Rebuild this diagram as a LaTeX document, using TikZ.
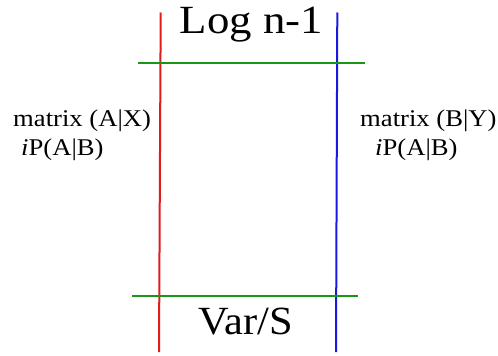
\documentclass[tikz,border=0pt]{standalone}
\usepackage{fontspec}
\setmainfont{Liberation Serif}
\definecolor{lred}{RGB}{222,28,28}
\definecolor{lblue}{RGB}{24,24,222}
\definecolor{lgreen}{RGB}{24,150,24}
\tikzset{
  bigtext/.style={inner sep=0pt, anchor=base, font=\fontsize{40}{44}\selectfont},
  smalltext/.style={inner sep=0pt, anchor=base west, font=\fontsize{24}{27}\selectfont},
  vline/.style={line width=2pt},
  hline/.style={line width=2pt, lgreen}
}
\begin{document}
\begin{tikzpicture}[x=1pt,y=-1pt]
\useasboundingbox (0,0) rectangle (498,356);
\coordinate (rt) at (160.7,12.5);
\coordinate (rb) at (159,352);
\coordinate (bt) at (337.3,12.5);
\coordinate (bb) at (336,352);
\coordinate (gtl) at (138,63);
\coordinate (gtr) at (365,63);
\coordinate (gbl) at (132,295.7);
\coordinate (gbr) at (358,295.7);
\draw[vline, lred] (rt) -- (rb);
\draw[vline, lblue] (bt) -- (bb);
\draw[hline] (gtl) -- (gtr);
\draw[hline] (gbl) -- (gbr);
\node[bigtext] (log) at (251.5,33) {\scalebox{1.12}[1]{Log n-1}};
\node[bigtext] (var) at (245.5,334) {\scalebox{1.06}[1]{Var/S}};
\node[smalltext] (lm) at (13,126.5) {\scalebox{1.11}[1]{matrix (A|X)}};
\node[smalltext] (lp) at (21,155) {\scalebox{1.11}[1]{\textit{i}P(A|B)}};
\node[smalltext] (rm) at (360,126.5) {\scalebox{1.11}[1]{matrix (B|Y)}};
\node[smalltext] (rp) at (375,155) {\scalebox{1.11}[1]{\textit{i}P(A|B)}};
\end{tikzpicture}
\end{document}
